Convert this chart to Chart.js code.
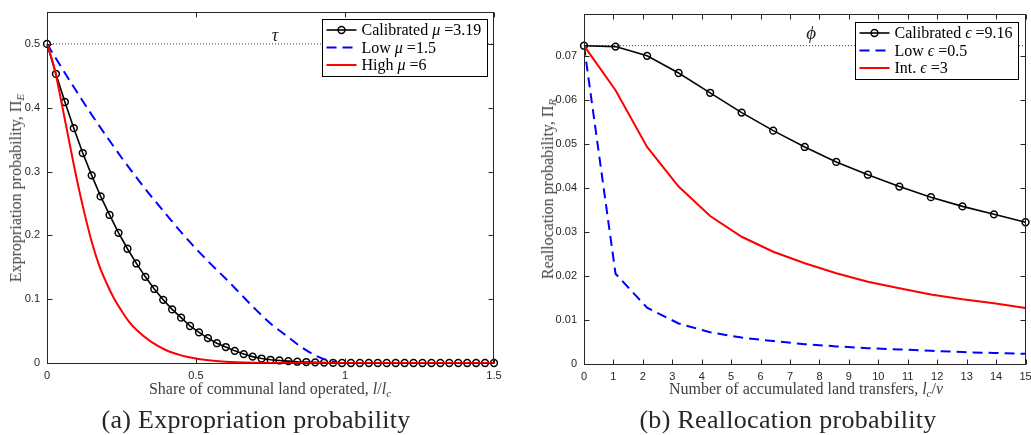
<!DOCTYPE html>
<html>
<head>
<meta charset="utf-8">
<script src="https://cdn.jsdelivr.net/npm/chart.js@4.4.1/dist/chart.umd.min.js"></script>
<style>
  html, body { margin: 0; padding: 0; background: #fff; }
  #wrap { position: relative; width: 1031px; height: 435px; overflow: hidden; font-family: "Liberation Serif", "DejaVu Serif", serif; }
  canvas { position: absolute; top: 0; }
  .lbl { position: absolute; white-space: nowrap; color: #404040; font-size: 16px; transform: translate(-50%, -50%); }
  .rot { transform: translate(-50%, -50%) rotate(-90deg); }
  .cap { position: absolute; white-space: nowrap; color: #262626; font-size: 26px; letter-spacing: 0.3px; transform: translate(-50%, -50%); }
  sub { font-size: 70%; vertical-align: -0.3em; line-height: 0; }
</style>
</head>
<body>
<div id="wrap">
  <canvas id="chartA" width="515" height="435" style="left:0"></canvas>
  <canvas id="chartB" width="516" height="435" style="left:515px"></canvas>

  <div class="lbl" style="left:270px;top:389px">Share of communal land operated, <i>l</i>/<i>l</i><sub><i>c</i></sub></div>
  <div class="lbl rot" style="left:16px;top:188px">Expropriation probability, Π<sub><i>E</i></sub></div>
  <div class="cap" style="left:256px;top:420px">(a) Expropriation probability</div>

  <div class="lbl" style="left:806px;top:389px">Number of accumulated land transfers, <i>l</i><sub><i>c</i></sub>/<i>v</i></div>
  <div class="lbl rot" style="left:548px;top:189px">Reallocation probability, Π<sub><i>R</i></sub></div>
  <div class="cap" style="left:788px;top:420px">(b) Reallocation probability</div>
</div>

<script>
// (a) Expropriation probability vs share of communal land operated
var calX = [0, 0.03, 0.06, 0.09, 0.12, 0.15, 0.18, 0.21, 0.24, 0.27, 0.3, 0.33, 0.36, 0.39, 0.42, 0.45, 0.48,
  0.51, 0.54, 0.57, 0.6, 0.63, 0.66, 0.69, 0.72, 0.75, 0.78, 0.81, 0.84, 0.87, 0.9, 0.93, 0.96, 0.99,
  1.02, 1.05, 1.08, 1.11, 1.14, 1.17, 1.2, 1.23, 1.26, 1.29, 1.32, 1.35, 1.38, 1.41, 1.44, 1.47, 1.5];
var calPE = [0.5, 0.453, 0.409, 0.368, 0.329, 0.294, 0.261, 0.232, 0.204, 0.179, 0.156, 0.135, 0.116, 0.099,
  0.084, 0.071, 0.058, 0.048, 0.039, 0.031, 0.025, 0.019, 0.014, 0.010, 0.007, 0.005, 0.004, 0.003, 0.002,
  0.0015, 0.001, 0.0006, 0.0003, 0, 0, 0, 0, 0, 0, 0, 0, 0, 0, 0, 0, 0, 0, 0, 0, 0, 0];
var lowMuX = [0, 0.05, 0.1, 0.15, 0.2, 0.25, 0.3, 0.35, 0.4, 0.45, 0.5, 0.55, 0.6, 0.65, 0.7, 0.75, 0.8, 0.85, 0.9, 0.95, 1.0, 1.5];
var lowMuPE = [0.5, 0.462, 0.425, 0.389, 0.355, 0.322, 0.291, 0.261, 0.233, 0.205, 0.179, 0.155, 0.132, 0.108,
  0.084, 0.062, 0.044, 0.026, 0.012, 0.003, 0, 0];
var highMuX = [0, 0.025, 0.05, 0.075, 0.1, 0.125, 0.15, 0.175, 0.2, 0.225, 0.25, 0.275, 0.3, 0.35, 0.4, 0.45, 0.5, 0.55, 0.6, 0.7, 0.8, 0.9, 1.5];
var highMuPE = [0.5, 0.462, 0.405, 0.346, 0.288, 0.236, 0.19, 0.153, 0.125, 0.101, 0.082, 0.065, 0.052, 0.033,
  0.02, 0.012, 0.007, 0.004, 0.002, 0.0005, 0.0001, 0, 0];
var TAU = 0.5;
var aXTicks = [0, 0.5, 1, 1.5];
var aYTicks = [0, 0.1, 0.2, 0.3, 0.4, 0.5];

// (b) Reallocation probability vs number of accumulated land transfers
var transfersX = [0, 1.0714, 2.1429, 3.2143, 4.2857, 5.3571, 6.4286, 7.5, 8.5714, 9.6429, 10.7143, 11.7857, 12.8571, 13.9286, 15];
var calPR = [0.0723, 0.0721, 0.0700, 0.0661, 0.0616, 0.0571, 0.0530, 0.0493, 0.0459, 0.0430, 0.0403, 0.0379, 0.0358, 0.0340, 0.0322];
var lowEpsPR = [0.0723, 0.0205, 0.0128, 0.0092, 0.0072, 0.0060, 0.0052, 0.0045, 0.0040, 0.0036, 0.0033, 0.0030, 0.0027, 0.0025, 0.0023];
var intEpsPR = [0.0723, 0.0622, 0.0493, 0.0403, 0.0336, 0.0289, 0.0255, 0.0229, 0.0206, 0.0187, 0.0172, 0.0158, 0.0147, 0.0138, 0.0127];
var PHI = 0.0723;
var bXTicks = [0, 1, 2, 3, 4, 5, 6, 7, 8, 9, 10, 11, 12, 13, 14, 15];
var bYTicks = [0, 0.01, 0.02, 0.03, 0.04, 0.05, 0.06, 0.07];

var SERIF = '"Liberation Serif", "DejaVu Serif", serif';
var GREEK = 'μϵϕτ';

function pts(xs, ys) {
  return xs.map(function (x, i) { return { x: x, y: ys[i] }; });
}

// text with greek letters set in italic, like the LaTeX labels
function richWidth(ctx, str, size) {
  var w = 0;
  for (var i = 0; i < str.length; i++) {
    ctx.font = (GREEK.indexOf(str[i]) >= 0 ? 'italic ' : '') + size + 'px ' + SERIF;
    w += ctx.measureText(str[i]).width;
  }
  return w;
}
function drawRich(ctx, str, x, y, size) {
  for (var i = 0; i < str.length; i++) {
    ctx.font = (GREEK.indexOf(str[i]) >= 0 ? 'italic ' : '') + size + 'px ' + SERIF;
    ctx.fillText(str[i], x, y);
    x += ctx.measureText(str[i]).width;
  }
}

// MATLAB-like box: frame, inward ticks on all sides, boxed legend, τ / ϕ mark
var matlabBox = {
  id: 'matlabBox',
  afterDraw: function (chart, args, opts) {
    var ctx = chart.ctx, a = chart.chartArea;
    var sx = chart.scales.x, sy = chart.scales.y;
    var L = Math.round(a.left) + 0.5, R = Math.round(a.right) - 0.5;
    var T = Math.round(a.top) + 0.5, B = Math.round(a.bottom) + 0.5;
    ctx.save();
    ctx.strokeStyle = '#262626';
    ctx.lineWidth = 1;
    ctx.setLineDash([]);
    ctx.strokeRect(L, T, R - L, B - T);
    ctx.beginPath();
    opts.xTicks.forEach(function (v) {
      var px = Math.round(sx.getPixelForValue(v)) + 0.5;
      ctx.moveTo(px, B); ctx.lineTo(px, B - 5);
      ctx.moveTo(px, T); ctx.lineTo(px, T + 5);
    });
    opts.yTicks.forEach(function (v) {
      var py = Math.round(sy.getPixelForValue(v)) + 0.5;
      ctx.moveTo(L, py); ctx.lineTo(L + 5, py);
      ctx.moveTo(R, py); ctx.lineTo(R - 5, py);
    });
    ctx.stroke();

    // reference-level symbol
    ctx.fillStyle = '#222';
    ctx.textBaseline = 'alphabetic';
    ctx.font = 'italic ' + opts.mark.size + 'px ' + SERIF;
    ctx.textAlign = 'center';
    ctx.fillText(opts.mark.text, sx.getPixelForValue(opts.mark.x), sy.getPixelForValue(opts.mark.y) - opts.mark.lift);
    ctx.textAlign = 'left';

    // legend
    var size = 16, rowH = 17.5;
    var items = chart.data.datasets.filter(function (d) { return d.inLegend; });
    items.sort(function (p, q) { return p.legendRank - q.legendRank; });
    var tw = 0;
    items.forEach(function (d) { tw = Math.max(tw, richWidth(ctx, d.label, size)); });
    var bw = Math.round(39 + tw + 6), bh = 57;
    var bx = Math.round(a.right - opts.inset - bw) + 0.5, by = Math.round(a.top + opts.inset) + 0.5;
    ctx.fillStyle = '#fff';
    ctx.fillRect(bx, by, bw, bh);
    ctx.strokeStyle = '#000';
    ctx.strokeRect(bx, by, bw, bh);
    items.forEach(function (d, i) {
      var cy = by + 10.5 + i * rowH;
      ctx.strokeStyle = d.borderColor;
      ctx.lineWidth = d.borderWidth;
      ctx.setLineDash(d.borderDash || []);
      ctx.beginPath();
      ctx.moveTo(bx + 4, cy); ctx.lineTo(bx + 34, cy);
      ctx.stroke();
      ctx.setLineDash([]);
      if (d.pointRadius > 0) {
        ctx.lineWidth = d.pointBorderWidth;
        ctx.beginPath();
        ctx.arc(bx + 19, cy, d.pointRadius, 0, Math.PI * 2);
        ctx.stroke();
      }
      ctx.fillStyle = '#000';
      ctx.textBaseline = 'middle';
      drawRich(ctx, d.label, bx + 39, cy + 1, size);
    });
    ctx.restore();
  }
};

function axisX(ticks, min, max) {
  return {
    type: 'linear', min: min, max: max,
    grid: { display: false, drawTicks: false }, border: { display: false },
    ticks: { padding: 6, color: '#262626', font: { family: '"Liberation Sans", Arial, sans-serif', size: 11 }, maxRotation: 0,
      callback: function (v) { return String(v); } },
    afterBuildTicks: function (s) { s.ticks = ticks.map(function (v) { return { value: v }; }); },
    afterFit: function (s) { s.height = 20; s.paddingLeft = 0; s.paddingRight = 0; }
  };
}
function axisY(ticks, min, max, width) {
  return {
    type: 'linear', min: min, max: max,
    grid: { display: false, drawTicks: false }, border: { display: false },
    ticks: { padding: 7, color: '#262626', font: { family: '"Liberation Sans", Arial, sans-serif', size: 11 },
      callback: function (v) { return String(v); } },
    afterBuildTicks: function (s) { s.ticks = ticks.map(function (v) { return { value: v }; }); },
    afterFit: function (s) { s.width = width; s.paddingTop = 0; s.paddingBottom = 0; }
  };
}

function refLine(x0, x1, y) {
  return { label: 'ref', data: [{ x: x0, y: y }, { x: x1, y: y }], borderColor: '#3a3a3a', borderWidth: 1,
    borderDash: [1, 2], pointRadius: 0, order: 4, inLegend: false };
}

function calibrated(label, xs, ys) {
  return { label: label, data: pts(xs, ys), borderColor: '#000', borderWidth: 1.6, tension: 0,
    pointRadius: 3.4, pointBorderWidth: 1.5, pointBorderColor: '#000', pointBackgroundColor: 'rgba(0,0,0,0)',
    clip: false, order: 3, inLegend: true, legendRank: 0 };
}
function low(label, xs, ys, smooth) {
  return { label: label, data: pts(xs, ys), borderColor: '#0000ff', borderWidth: 2, borderDash: [10, 6],
    cubicInterpolationMode: smooth ? 'monotone' : 'default', tension: 0,
    pointRadius: 0, order: 2, inLegend: true, legendRank: 1 };
}
function high(label, xs, ys, smooth) {
  return { label: label, data: pts(xs, ys), borderColor: '#ff0000', borderWidth: 2,
    cubicInterpolationMode: smooth ? 'monotone' : 'default', tension: 0,
    pointRadius: 0, order: 1, inLegend: true, legendRank: 2 };
}

var common = {
  responsive: false, animation: false, events: [],
  plugins: { legend: { display: false }, tooltip: { enabled: false } }
};

new Chart(document.getElementById('chartA'), {
  type: 'line',
  data: {
    datasets: [
      refLine(0, 1.5, TAU),
      calibrated('Calibrated μ =3.19', calX, calPE),
      low('Low μ =1.5', lowMuX, lowMuPE, true),
      high('High μ =6', highMuX, highMuPE, true)
    ]
  },
  options: Object.assign({}, common, {
    layout: { padding: { left: 0, right: 21, top: 12, bottom: 52 } },
    scales: { x: axisX(aXTicks, 0, 1.5), y: axisY(aYTicks, 0, 0.55, 47) },
    plugins: Object.assign({}, common.plugins, {
      matlabBox: { xTicks: aXTicks, yTicks: aYTicks, inset: 7, mark: { text: 'τ', x: 0.765, y: TAU, lift: 3, size: 18 } }
    })
  }),
  plugins: [matlabBox]
});

new Chart(document.getElementById('chartB'), {
  type: 'line',
  data: {
    datasets: [
      refLine(0, 15, PHI),
      calibrated('Calibrated ϵ =9.16', transfersX, calPR),
      low('Low ϵ =0.5', transfersX, lowEpsPR, false),
      high('Int. ϵ =3', transfersX, intEpsPR, false)
    ]
  },
  options: Object.assign({}, common, {
    layout: { padding: { left: 0, right: 4, top: 14, bottom: 51 } },
    scales: { x: axisX(bXTicks, 0, 15), y: axisY(bYTicks, 0, 0.0795, 69) },
    plugins: Object.assign({}, common.plugins, {
      matlabBox: { xTicks: bXTicks, yTicks: bYTicks, inset: 8, mark: { text: 'ϕ', x: 7.72, y: PHI, lift: 7, size: 19 } }
    })
  }),
  plugins: [matlabBox]
});
</script>
</body>
</html>
